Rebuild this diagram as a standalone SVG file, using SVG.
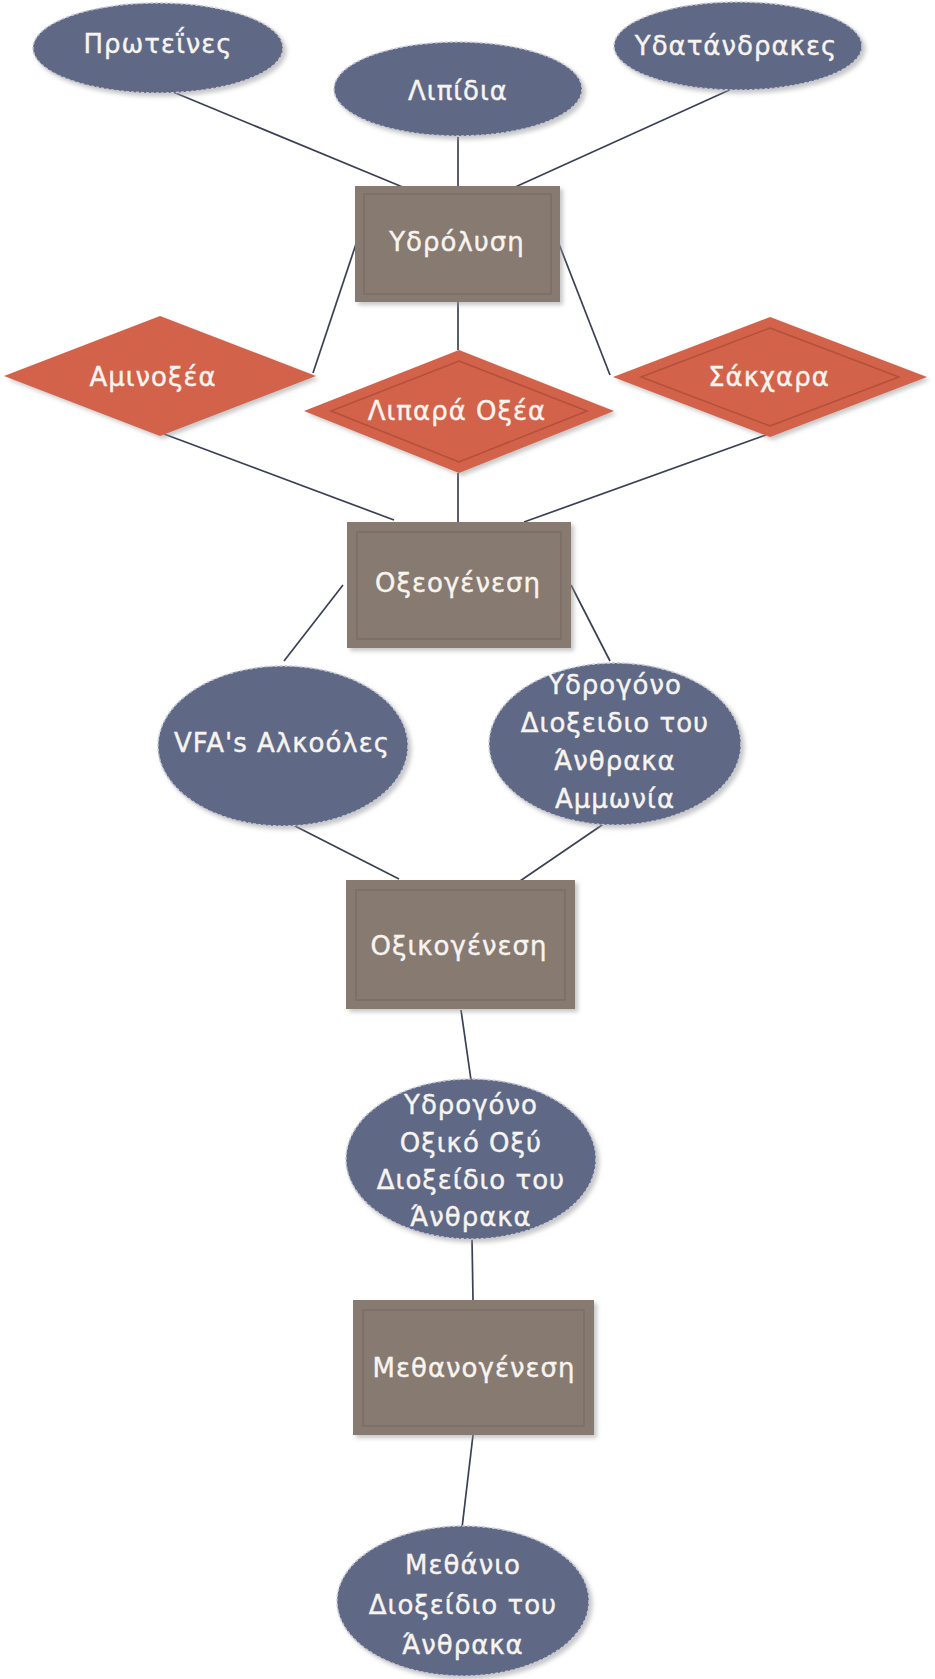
<svg xmlns="http://www.w3.org/2000/svg" width="935" height="1679" viewBox="0 0 935 1679">
<defs>
<filter id="sh" x="-10%" y="-10%" width="125%" height="125%">
<feDropShadow dx="3" dy="3" stdDeviation="2" flood-color="#9a9a9a" flood-opacity="0.55"/>
</filter>
<style>
.ell{fill:#5e6785;stroke:#c4c8d4;stroke-width:1.5;stroke-dasharray:3 2;filter:url(#sh)}
.box{fill:#877a70;filter:url(#sh)}
.inner{fill:none;stroke:#7c6e64;stroke-width:1.5}
.dia{fill:#d2624a;filter:url(#sh)}
.dinner{fill:none;stroke:#b3503b;stroke-width:1.5}
.t{font-family:"DejaVu Sans","Noto Sans",sans-serif;font-size:26px;fill:#f7f4f0;stroke:#f7f4f0;stroke-width:0.4;text-anchor:middle;letter-spacing:1px}
.c{stroke:#3a4155;stroke-width:1.7;fill:none}
</style>
</defs>
<rect width="935" height="1679" fill="#ffffff"/>
<g id="connectors">
<line class="c" x1="161" y1="87" x2="405" y2="188"/>
<line class="c" x1="458" y1="137" x2="458" y2="186"/>
<line class="c" x1="736" y1="87" x2="513" y2="188"/>
<line class="c" x1="356" y1="244" x2="313" y2="373"/>
<line class="c" x1="559" y1="244" x2="610" y2="375"/>
<line class="c" x1="458" y1="302" x2="458" y2="350"/>
<line class="c" x1="164" y1="434" x2="394" y2="520"/>
<line class="c" x1="458" y1="473" x2="458" y2="522"/>
<line class="c" x1="766" y1="435" x2="524" y2="522"/>
<line class="c" x1="343" y1="585" x2="284" y2="661"/>
<line class="c" x1="571" y1="585" x2="610" y2="661"/>
<line class="c" x1="293" y1="825" x2="399" y2="879"/>
<line class="c" x1="605" y1="823" x2="520" y2="881"/>
<line class="c" x1="461" y1="1010" x2="471" y2="1080"/>
<line class="c" x1="472" y1="1238" x2="473" y2="1300"/>
<line class="c" x1="473" y1="1435" x2="462" y2="1528"/>
</g>
<g id="proteines">
<ellipse class="ell" cx="158" cy="48" rx="125" ry="45"/>
<text class="t" x="158" y="53">Πρωτεΐνες</text>
</g>
<g id="lipidia">
<ellipse class="ell" cx="458" cy="89" rx="124" ry="47"/>
<text class="t" x="458" y="100">Λιπίδια</text>
</g>
<g id="ydatanthrakes">
<ellipse class="ell" cx="738" cy="46" rx="124" ry="44"/>
<text class="t" x="736" y="55">Υδατάνδρακες</text>
</g>
<g id="ydrolysi">
<rect class="box" x="355" y="186" width="205" height="116"/>
<rect class="inner" x="364" y="194" width="187" height="100"/>
<text class="t" x="457" y="251">Υδρόλυση</text>
</g>
<g id="aminoxea">
<polygon class="dia" points="160,316 316,376 160,436 4,376"/>
<text class="t" x="153" y="386">Αμινοξέα</text>
</g>
<g id="liparaoxea">
<polygon class="dia" points="459,350 614,411 459,473 304,411"/>
<polygon class="dinner" points="459,361 587,411 459,462 331,411"/>
<text class="t" x="457" y="420">Λιπαρά Οξέα</text>
</g>
<g id="sakchara">
<polygon class="dia" points="770,317 927,377 770,437 613,377"/>
<polygon class="dinner" points="770,328 899,377 770,426 641,377"/>
<text class="t" x="769" y="386">Σάκχαρα</text>
</g>
<g id="oxeogenesi">
<rect class="box" x="347" y="522" width="224" height="126"/>
<rect class="inner" x="357" y="532" width="204" height="107"/>
<text class="t" x="458" y="592">Οξεογένεση</text>
</g>
<g id="vfa">
<ellipse class="ell" cx="283" cy="746" rx="125" ry="80"/>
<text class="t" x="282" y="752">VFA's Αλκοόλες</text>
</g>
<g id="ydrogono1">
<ellipse class="ell" cx="615" cy="744" rx="126" ry="81"/>
<text class="t" x="615" y="694">Υδρογόνο</text>
<text class="t" x="615" y="732">Διοξειδιο του</text>
<text class="t" x="615" y="770">Άνθρακα</text>
<text class="t" x="615" y="808">Αμμωνία</text>
</g>
<g id="oxikogenesi">
<rect class="box" x="346" y="880" width="229" height="129"/>
<rect class="inner" x="356" y="890" width="209" height="110"/>
<text class="t" x="459" y="955">Οξικογένεση</text>
</g>
<g id="ydrogono2">
<ellipse class="ell" cx="471" cy="1159" rx="125" ry="80"/>
<text class="t" x="471" y="1114">Υδρογόνο</text>
<text class="t" x="471" y="1152">Οξικό Οξύ</text>
<text class="t" x="471" y="1189">Διοξείδιο του</text>
<text class="t" x="471" y="1226">Άνθρακα</text>
</g>
<g id="methanogenesi">
<rect class="box" x="353" y="1300" width="241" height="135"/>
<rect class="inner" x="363" y="1310" width="221" height="116"/>
<text class="t" x="474" y="1377">Μεθανογένεση</text>
</g>
<g id="methanio">
<ellipse class="ell" cx="463" cy="1601" rx="126" ry="75"/>
<text class="t" x="463" y="1574">Μεθάνιο</text>
<text class="t" x="463" y="1614">Διοξείδιο του</text>
<text class="t" x="463" y="1654">Άνθρακα</text>
</g>
</svg>
